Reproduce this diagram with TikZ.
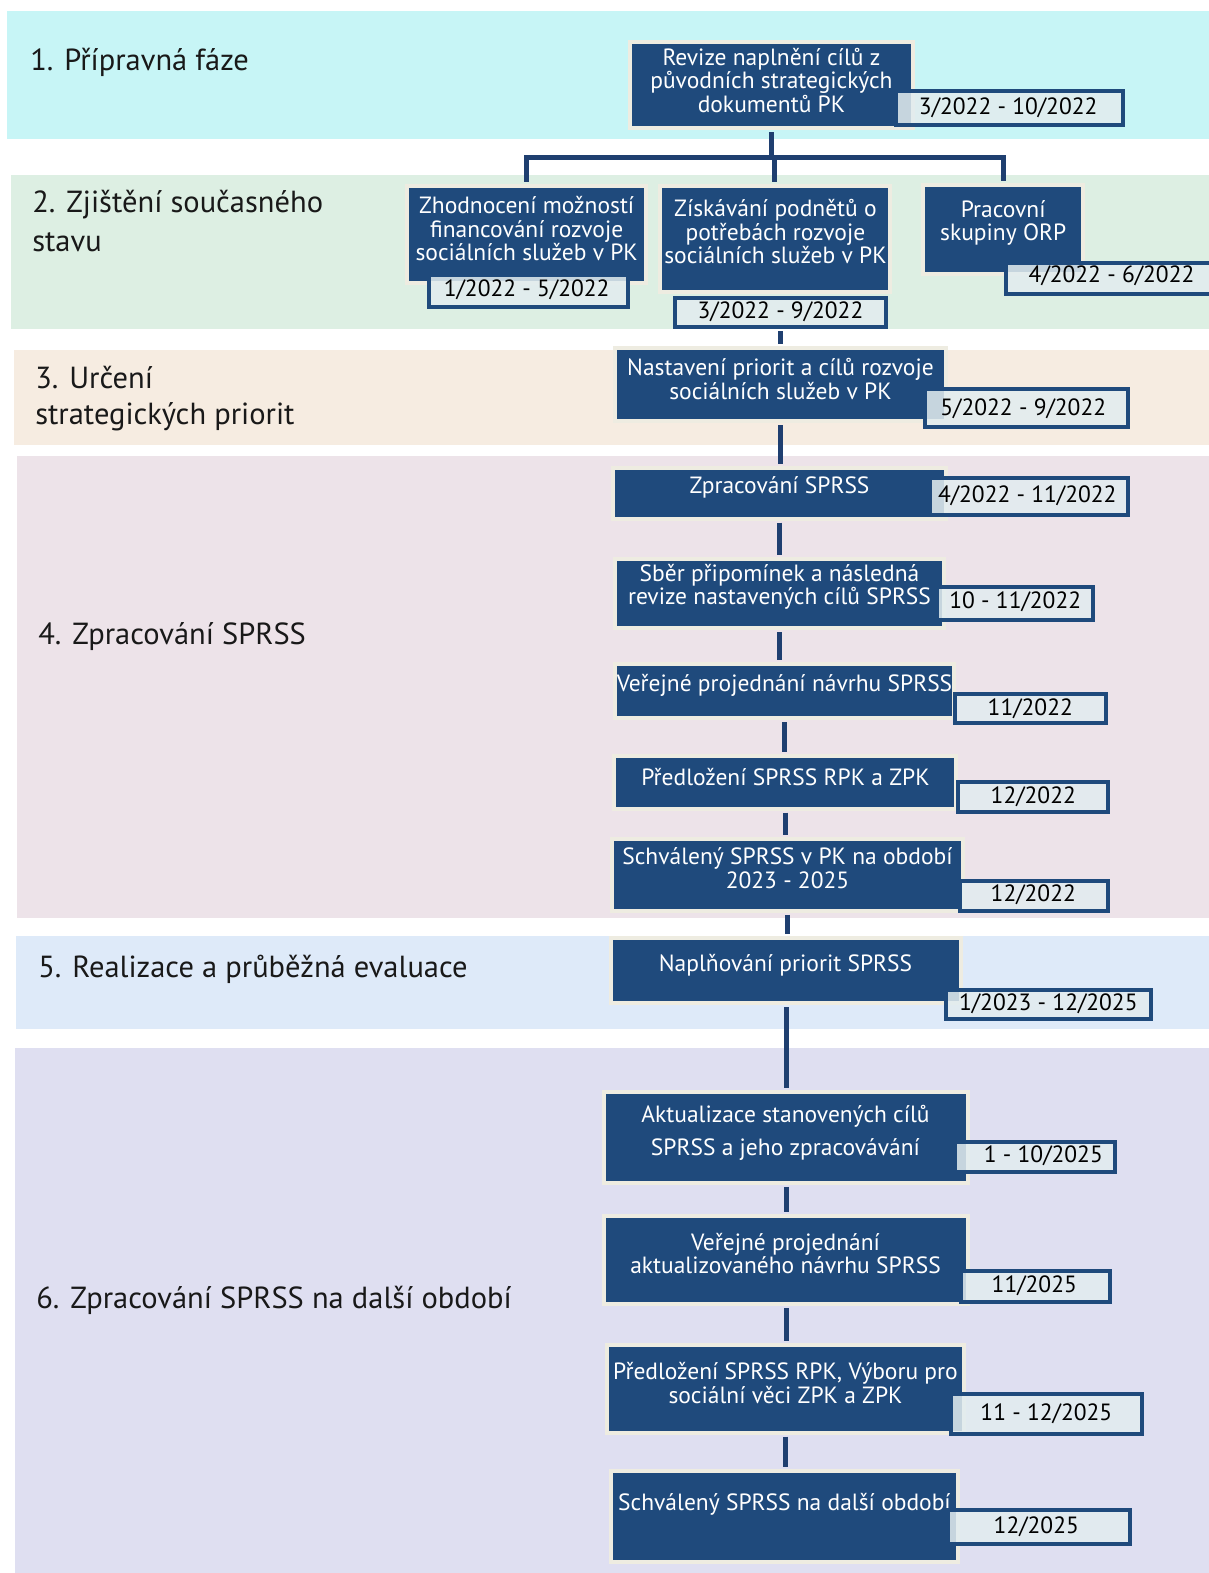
\documentclass[tikz,border=0pt]{standalone}
\usepackage{fontspec}
\setmainfont{PT Sans}
\usetikzlibrary{fit}
\definecolor{bandcyan}{HTML}{C7F5F6}
\definecolor{bandgreen}{HTML}{DDEFE3}
\definecolor{bandpeach}{HTML}{F6ECE1}
\definecolor{bandpink}{HTML}{EDE3E9}
\definecolor{bandblue}{HTML}{DEEAF9}
\definecolor{bandlav}{HTML}{DFDFF1}
\definecolor{boxblue}{HTML}{1F4A7C}
\definecolor{beige}{HTML}{EEECE1}
\definecolor{datefill}{HTML}{E2ECEF}
\definecolor{lineblue}{HTML}{1F3F70}
\begin{document}
\begin{tikzpicture}[x=1.0033pt,y=-1.0033pt,
  band/.style={fill=#1, draw=none},
  box/.style={fill=boxblue, draw=beige, line width=4pt, inner sep=0pt},
  boxtxt/.style={text=white, font=\fontsize{23.5}{23.5}\selectfont, align=center, inner sep=0pt},
  datebox/.style={fill=datefill, fill opacity=0.86, draw=boxblue, draw opacity=1, line width=4pt, inner sep=0pt},
  datetxt/.style={inner sep=0pt, font=\fontsize{23.5}{23.5}\selectfont, text=black},
  conn/.style={draw=lineblue, line width=5pt, shorten <=2pt, shorten >=2pt},
  head/.style={anchor=west, font=\fontsize{30.5}{36}\selectfont, align=left, text=black!90, inner sep=0pt}]
\useasboundingbox (0,0) rectangle (1205,1568);
\fill[white] (0,0) rectangle (1205,1568);
% bands
\fill[bandcyan] (7,11) rectangle (1205,139);
\fill[bandgreen] (11,174) rectangle (1205,328);
\fill[bandpeach] (14,349) rectangle (1205,444);
\fill[bandpink] (17,455) rectangle (1205,915);
\fill[bandblue] (16,933) rectangle (1205,1026);
\fill[bandlav] (15,1045) rectangle (1205,1568);
% headings
\node[head] (h1) at (30,62) {1. Přípravná fáze};
\node[head, font=\fontsize{30.5}{39}\selectfont] (h2) at (32,220.5) {2. Zjištění současného\\stavu};
\node[head] (h3) at (35,397) {3. Určení\\strategických priorit};
\node[head] (h4) at (38,635) {4. Zpracování SPRSS};
\node[head] (h5) at (38,966) {5. Realizace a průběžná evaluace};
\node[head] (h6) at (36,1296) {6. Zpracování SPRSS na další období};
% boxes
\node[box, fit={(628,42) (910,128)}] (R) {};
\node[boxtxt] (Rt) at (769,80) {Revize naplnění cílů z\\původních strategických\\dokumentů PK};
\node[datebox, fit={(893,91) (1119,125)}] (dR) {};
\node[datetxt] (dRt) at (1005,107) {3/2022 - 10/2022};

\node[box, fit={(406,185) (644,282)}] (A) {};
\node[boxtxt] (At) at (525,228) {Zhodnocení možností\\financování rozvoje\\sociálních služeb v PK};
\node[datebox, fit={(428,274) (626,306)}] (dA) {};
\node[datetxt] (dAt) at (525,289) {1/2022 - 5/2022};

\node[box, fit={(658,185) (887,291)}] (B) {};
\node[boxtxt] (Bt) at (773,231) {Získávání podnětů o\\potřebách rozvoje\\sociálních služeb v PK};
\node[datebox, fit={(673,297) (883,326)}] (dB) {};
\node[datetxt] (dBt) at (778,311) {3/2022 - 9/2022};

\node[box, fit={(920,184) (1080,273)}] (C) {};
\node[boxtxt] (Ct) at (1000,222) {Pracovní\\skupiny ORP};
\node[datebox, fit={(1003,262) (1215,293)}] (dC) {};
\node[datetxt] (dCt) at (1108,275) {4/2022 - 6/2022};

\node[box, fit={(613,347) (943,420)}] (D) {};
\node[boxtxt] (Dt) at (778,378) {Nastavení priorit a cílů rozvoje\\sociálních služeb v PK};
\node[datebox, fit={(922,388) (1124,426)}] (dD) {};
\node[datetxt] (dDt) at (1020,407) {5/2022 - 9/2022};

\node[box, fit={(611,467) (943,517)}] (E) {};
\node[boxtxt] (Et) at (777,486) {Zpracování SPRSS};
\node[datebox, fit={(927,476) (1124,513)}] (dE) {};
\node[datetxt] (dEt) at (1024,494) {4/2022 - 11/2022};

\node[box, fit={(613,557) (941,626)}] (F) {};
\node[boxtxt] (Ft) at (777,585) {Sběr připomínek a následná\\revize nastavených cílů SPRSS};
\node[datebox, fit={(934,585) (1090,618)}] (dF) {};
\node[datetxt] (dFt) at (1012,600) {10 - 11/2022};

\node[box, fit={(613,662) (951,716)}] (G) {};
\node[boxtxt] (Gt) at (782,683) {Veřejné projednání návrhu SPRSS};
\node[datebox, fit={(952,692) (1102,721)}] (dG) {};
\node[datetxt] (dGt) at (1027,707) {11/2022};

\node[box, fit={(612,754) (953,806)}] (H) {};
\node[boxtxt] (Ht) at (783,775) {Předložení SPRSS RPK a ZPK};
\node[datebox, fit={(955,780) (1104,809)}] (dH) {};
\node[datetxt] (dHt) at (1030,794) {12/2022};

\node[box, fit={(610,836) (960,908)}] (I) {};
\node[boxtxt] (It) at (785,865.5) {Schválený SPRSS v PK na období\\2023 - 2025};
\node[datebox, fit={(957,878) (1104,908)}] (dI) {};
\node[datetxt] (dIt) at (1030,892) {12/2022};

\node[box, fit={(609,935) (958,1000)}] (J) {};
\node[boxtxt] (Jt) at (783,962) {Naplňování priorit SPRSS};
\node[datebox, fit={(943,987) (1147,1016)}] (dJ) {};
\node[datetxt] (dJt) at (1045,1001) {1/2023 - 12/2025};

\node[box, fit={(602,1089) (965,1179)}] (K) {};
\node[boxtxt, font=\fontsize{23.5}{33}\selectfont] (Kt) at (783,1129.5) {Aktualizace stanovených cílů\\SPRSS a jeho zpracovávání};
\node[datebox, fit={(952,1138) (1111,1168)}] (dK) {};
\node[datetxt] (dKt) at (1040,1152) {1 - 10/2025};

\node[box, fit={(602,1212) (965,1300)}] (L) {};
\node[boxtxt] (Lt) at (783,1249.5) {Veřejné projednání\\aktualizovaného návrhu SPRSS};
\node[datebox, fit={(958,1267) (1106,1298)}] (dL) {};
\node[datetxt] (dLt) at (1031,1282) {11/2025};

\node[box, fit={(605,1341) (961,1428)}] (M) {};
\node[boxtxt] (Mt) at (783,1378.5) {Předložení SPRSS RPK, Výboru pro\\sociální věci ZPK a ZPK};
\node[datebox, fit={(948,1390) (1138,1429)}] (dM) {};
\node[datetxt] (dMt) at (1043,1409) {11 - 12/2025};

\node[box, fit={(609,1466) (955,1557)}] (N) {};
\node[boxtxt] (Nt) at (782,1500) {Schválený SPRSS na další období};
\node[datebox, fit={(945,1505) (1126,1539)}] (dN) {};
\node[datetxt] (dNt) at (1033,1522) {12/2025};
% connectors
\draw[conn, shorten >=0pt] (R.south) -- ++(0,27) coordinate (split);
\draw[conn] (A.north) -- (A.north |- split) -- (C.north |- split) -- (C.north);
\draw[conn, shorten <=0pt] (B.north |- split) -- (B.north);
\draw[conn] (dB.south) -- (dB.south |- D.north);
\draw[conn] (D.south) -- (D.south |- E.north);
\draw[conn] (E.south) -- (E.south |- F.north);
\draw[conn] (F.south) -- (F.south |- G.north);
\draw[conn] (G.south) -- (G.south |- H.north);
\draw[conn] (H.south) -- (H.south |- I.north);
\draw[conn] (I.south) -- (I.south |- J.north);
\draw[conn] (J.south) -- (J.south |- K.north);
\draw[conn] (K.south) -- (K.south |- L.north);
\draw[conn] (L.south) -- (L.south |- M.north);
\draw[conn] (M.south) -- (M.south |- N.north);
\end{tikzpicture}
\end{document}
